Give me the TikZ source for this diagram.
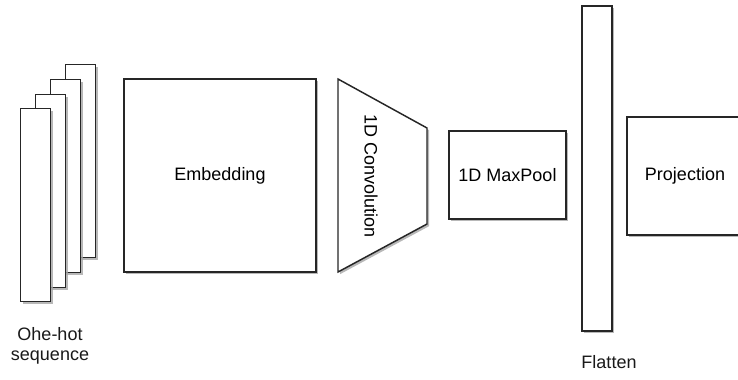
\documentclass[tikz,border=0pt]{standalone}
\usepackage{fontspec}
\setmainfont{Liberation Sans}
\usetikzlibrary{shadows}

\tikzset{
    layer/.style={rectangle, draw=black!85, line width=1.1pt, fill=white, inner sep=0pt,
        drop shadow={shadow xshift=1.6pt, shadow yshift=-1.6pt, fill=black!35, opacity=0.8}},
    stackbar/.style={layer, anchor=north west, minimum width=22.5pt, minimum height=144.75pt},
    caption/.style={align=center, text=black!90, font=\fontsize{13.5}{15}\selectfont},
}

\begin{document}
\begin{tikzpicture}[x=0.75pt, y=-0.75pt, font=\fontsize{13.5}{15}\selectfont]
        \useasboundingbox (0,0) rectangle (738,379);

        % one-hot input stack
        \node[stackbar] (hot4) at (65, 64) {};
        \node[stackbar] (hot3) at (50, 79) {};
        \node[stackbar] (hot2) at (35, 94) {};
        \node[stackbar] (hot1) at (20, 108) {};
        \node[caption] (hotlabel) at (50, 346) {Ohe-hot\\sequence};

        \node[layer, minimum width=144pt, minimum height=144.75pt] (embed) at (220, 175.5) {Embedding};

        % convolution trapezoid
        \draw[line width=1.1pt, draw=black!85, fill=white,
            drop shadow={shadow xshift=1.6pt, shadow yshift=-1.6pt, fill=black!35, opacity=0.8}]
            (338,79) -- (427,128) -- (427,224) -- (338,272) -- cycle;
        \node[rotate=-90] (conv) at (371, 176) {1D Convolution};

        \node[layer, minimum width=87.75pt, minimum height=66pt] (pool) at (507.5, 175) {1D MaxPool};

        \node[layer, minimum width=22.5pt, minimum height=243.75pt] (flat) at (597, 168.5) {};
        \node[caption] (flatlabel) at (609, 362) {Flatten};

        \node[layer, minimum width=87pt, minimum height=88.5pt] (proj) at (685, 176) {Projection};

    \end{tikzpicture}
\end{document}
